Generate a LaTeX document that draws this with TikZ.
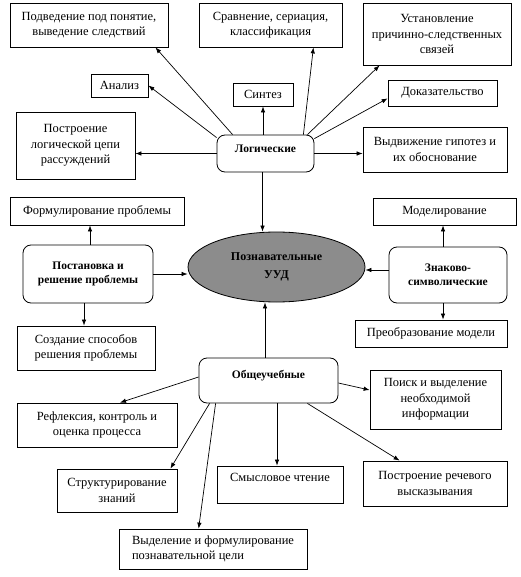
\documentclass[tikz,border=0pt]{standalone}
\usepackage{fontspec}
\setmainfont{Liberation Serif}
\usetikzlibrary{arrows.meta,shapes.geometric}
\definecolor{ellgray}{RGB}{140,140,140}
\tikzset{
  box/.style={draw,line width=0.8pt,inner sep=0pt,align=center,font=\fontsize{12.5}{15.5}\selectfont},
  rbox/.style={draw,line width=0.8pt,inner sep=0pt,rounded corners=8pt,align=center,font=\bfseries\fontsize{11.5}{14}\selectfont},
  arr/.style={-{Latex[length=6pt,width=4.5pt]},line width=0.7pt}
}
\begin{document}
\begin{tikzpicture}[x=1pt,y=-1pt]
\useasboundingbox (0,0) rectangle (520,577);
% logical group
\node[box,minimum width=158pt,minimum height=44pt] (podv) at (89,25) {Подведение под понятие,\\выведение следствий};
\node[box,minimum width=143pt,minimum height=44pt] (sravn) at (270.5,25) {Сравнение, сериация,\\классификация};
\node[box,minimum width=148pt,minimum height=62pt] (ustan) at (437,34) {Установление\\причинно-следственных\\связей};
\node[box,minimum width=57pt,minimum height=23pt] (analiz) at (119.5,85.5) {Анализ};
\node[box,minimum width=60pt,minimum height=23pt] (sintez) at (263,94.5) {Синтез};
\node[box,minimum width=109pt,minimum height=26pt] (dokaz) at (442.5,93) {Доказательство};
\node[box,minimum width=119pt,minimum height=67pt] (postr) at (75.5,145.5) {Построение\\логической цепи\\рассуждений};
\node[rbox,minimum width=97pt,minimum height=37pt,text depth=9pt] (logic) at (265.5,153.5) {Логические};
\node[box,minimum width=144pt,minimum height=45pt] (vydv) at (435,149.5) {Выдвижение гипотез и\\их обоснование};
% middle
\node[box,minimum width=174pt,minimum height=28pt] (formul) at (97,211) {Формулирование проблемы};
\node[rbox,minimum width=130pt,minimum height=58pt] (postan) at (88,274) {Постановка и\\решение проблемы};
\node[draw,ellipse,fill=ellgray,line width=0.8pt,minimum width=177pt,minimum height=70pt,inner sep=0pt,align=center,font=\bfseries\fontsize{12}{18}\selectfont] (ell) at (276.5,267) {Познавательные\\УУД};
\node[box,minimum width=143pt,minimum height=27pt] (model) at (444.5,211.5) {Моделирование};
\node[rbox,minimum width=118pt,minimum height=56pt] (znak) at (448,275) {Знаково-\\символические};
\node[box,minimum width=152pt,minimum height=27pt] (preobr) at (431,333.5) {Преобразование модели};
\node[box,minimum width=138pt,minimum height=44pt] (sozd) at (86,348) {Создание способов\\решения проблемы};
% general
\node[rbox,minimum width=139pt,minimum height=45pt,text depth=12pt] (obsh) at (268.5,380.5) {Общеучебные};
\node[box,minimum width=131pt,minimum height=59pt] (poisk) at (435.5,399.5) {Поиск и выделение\\необходимой\\информации};
\node[box,minimum width=160pt,minimum height=44pt] (refl) at (97,425) {Рефлексия, контроль и\\оценка процесса};
\node[box,minimum width=126pt,minimum height=37pt,text depth=14pt] (smysl) at (280,484.5) {Смысловое чтение};
\node[box,minimum width=144pt,minimum height=45pt] (rech) at (435,483.5) {Построение речевого\\высказывания};
\node[box,minimum width=120pt,minimum height=43pt] (struct) at (117,490.5) {Структурирование\\знаний};
\node[box,minimum width=188pt,minimum height=40pt,align=left] (vydel) at (213,549) {Выделение и формулирование\\познавательной цели};
% arrows from logic
\draw[arr] ([xshift=16pt]logic.north west) -- ([xshift=-13pt]podv.south east);
\draw[arr] ([yshift=-3pt]logic.north west) -- (analiz.east);
\draw[arr] (logic.west) -- (logic.west -| postr.east);
\draw[arr] (sintez.south |- logic.north) -- (sintez.south);
\draw[arr] ([xshift=-11pt]logic.north east) -- ([xshift=-29pt]sravn.south east);
\draw[arr] ([xshift=-7pt]logic.north east) -- ([xshift=17pt]ustan.south west);
\draw[arr] ([yshift=-4pt]logic.north east) -- ([yshift=8pt]dokaz.south west);
\draw[arr] (logic.east) -- (logic.east -| vydv.west);
\draw[arr] ([xshift=-3pt]logic.south) -- ([xshift=-3pt]logic.south |- ell.north);
% postan
\draw[arr] ([xshift=2pt]postan.north) -- ([xshift=2pt]postan.north |- formul.south);
\draw[arr] ([xshift=-4pt]postan.south) -- ([xshift=-4pt]postan.south |- sozd.north);
\draw[arr] (postan.east) -- (postan.east -| ell.west);
% znak
\draw[arr] ([xshift=-5pt]znak.north) -- ([xshift=-5pt]znak.north |- model.south);
\draw[arr] ([xshift=-5pt]znak.south) -- ([xshift=-5pt]znak.south |- preobr.north);
\draw[arr] ([yshift=5pt]znak.west) -- ([yshift=5pt]znak.west -| ell.east);
% obsh
\draw[arr] ([xshift=-3.5pt]obsh.north) -- ([xshift=-3.5pt]obsh.north |- ell.south);
\draw[arr] ([yshift=3.5pt]obsh.west) -- ([xshift=23pt]refl.north);
\draw[arr] ([xshift=11pt]obsh.south west) -- ([xshift=-7pt]struct.north east);
\draw[arr] ([xshift=17pt]obsh.south west) -- ([xshift=80pt]vydel.north west);
\draw[arr] ([xshift=8.5pt]obsh.south) -- ([xshift=8.5pt]obsh.south |- smysl.north);
\draw[arr] ([yshift=-2.5pt]obsh.east) -- ([yshift=9.5pt]poisk.west);
\draw[arr] ([xshift=-31pt]obsh.south east) -- ([xshift=37pt]rech.north west);
\end{tikzpicture}
\end{document}
